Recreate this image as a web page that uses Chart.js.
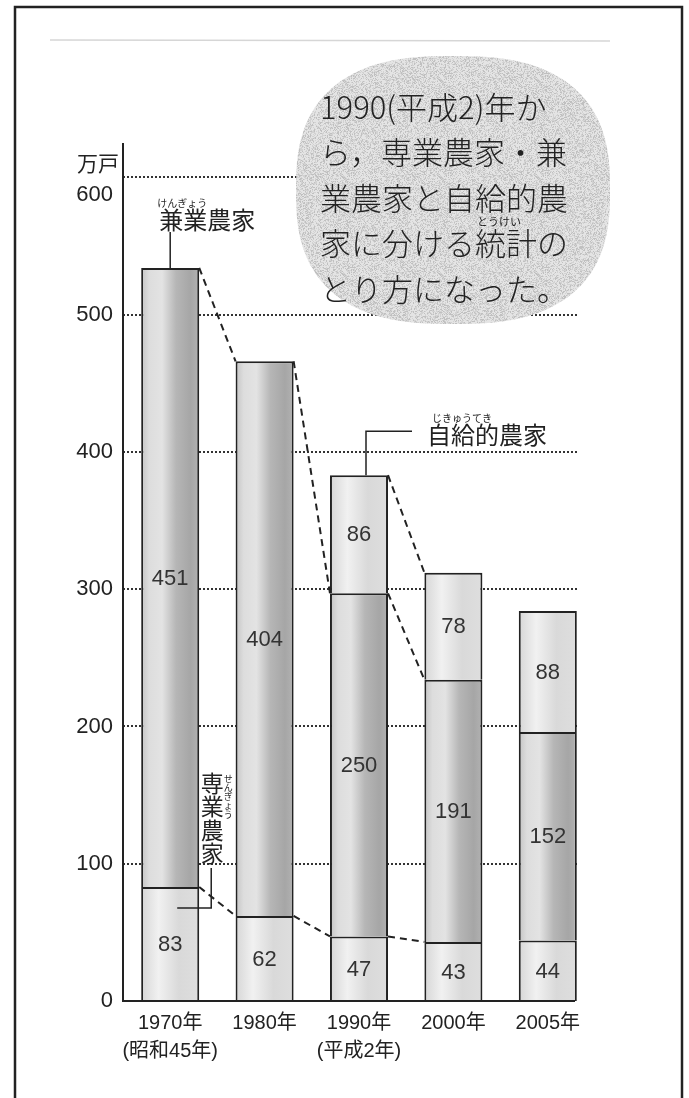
<!DOCTYPE html>
<html lang="ja">
<head>
<meta charset="utf-8">
<title>農家数の移り変わり</title>
<script src="https://cdn.jsdelivr.net/npm/chart.js@4.4.1/dist/chart.umd.min.js"></script>
<style>
  html, body { margin: 0; padding: 0; background: #fff; }
  #wrap { width: 689px; height: 1098px; position: relative; }
</style>
</head>
<body>
<div id="wrap"><canvas id="farmChart"></canvas></div>
<script>
// データ（万戸）
const years = [['1970年', '(昭和45年)'], '1980年', ['1990年', '(平成2年)'], '2000年', '2005年'];
const senGyo = [83, 62, 47, 43, 44];          // 専業農家
const kenGyo = [451, 404, 250, 191, 152];     // 兼業農家
const jikyu = [null, null, 86, 78, 88];       // 自給的農家
const yTicks = [0, 100, 200, 300, 400, 500, 600];
const yMax = 625;
const linkedUpTo = 3; // 破線は2000年の棒までつなぐ

const BAR_PCT = 0.615;
const JP = '"Noto Sans CJK JP", sans-serif';
const NUM = '"Liberation Sans", "Noto Sans CJK JP", sans-serif';

// 棒の円柱っぽいグラデーション
const darkStops = [[0, '#c4c4c4'], [0.14, '#dddddd'], [0.36, '#e3e3e3'], [0.6, '#b6b6b6'], [0.85, '#a6a6a6'], [1, '#b2b2b2']];
const lightStops = [[0, '#d6d6d6'], [0.3, '#f1f1f1'], [0.65, '#d9d9d9'], [1, '#dedede']];

function barFill(stops) {
    return function (c) {
        const chart = c.chart;
        const xs = chart.scales.x;
        if (c.type !== 'data' || !xs || !chart.chartArea) return stops[2][1];
        const cx = xs.getPixelForValue(c.dataIndex);
        const half = (xs.width / years.length) * BAR_PCT / 2;
        const g = chart.ctx.createLinearGradient(cx - half, 0, cx + half, 0);
        stops.forEach(s => g.addColorStop(s[0], s[1]));
        return g;
    };
}

// 吹き出しの網点っぽい模様
function stipple(ctx) {
    const pc = document.createElement('canvas');
    pc.width = pc.height = 97;
    const p = pc.getContext('2d');
    const img = p.createImageData(97, 97);
    for (let y = 0; y < 97; y++) {
        for (let x = 0; x < 97; x++) {
            const h = Math.abs(Math.sin(x * 12.9898 + y * 78.233) * 43758.5453) % 1;
            const v = h > 0.5 ? 228 : (h > 0.2 ? 210 : 192);
            const k = (y * 97 + x) * 4;
            img.data[k] = img.data[k + 1] = img.data[k + 2] = v;
            img.data[k + 3] = 255;
        }
    }
    p.putImageData(img, 0, 0);
    return ctx.createPattern(pc, 'repeat');
}

function blob(ctx, cx, cy, a, b, n) {
    ctx.beginPath();
    for (let t = 0; t <= 360; t += 2) {
        const r = t * Math.PI / 180;
        const c = Math.cos(r), s = Math.sin(r);
        const x = cx + a * Math.sign(c) * Math.pow(Math.abs(c), 2 / n);
        const y = cy + b * Math.sign(s) * Math.pow(Math.abs(s), 2 / n);
        if (t === 0) ctx.moveTo(x, y); else ctx.lineTo(x, y);
    }
    ctx.closePath();
}

function txt(ctx, s, x, y, font, align) {
    ctx.font = font;
    ctx.textAlign = align || 'center';
    ctx.textBaseline = 'middle';
    ctx.fillText(s, x, y);
}

function line(ctx, pts) {
    ctx.beginPath();
    ctx.moveTo(pts[0][0], pts[0][1]);
    for (let i = 1; i < pts.length; i++) ctx.lineTo(pts[i][0], pts[i][1]);
    ctx.stroke();
}

const decor = {
    id: 'decor',
    beforeDraw(chart) {
        const ctx = chart.ctx;
        ctx.save();
        ctx.fillStyle = '#fff';
        ctx.fillRect(0, 0, chart.width, chart.height);
        // 枠
        ctx.strokeStyle = '#222';
        ctx.lineWidth = 2.5;
        ctx.strokeRect(15, 7, 667, 1110);
        // スキャンのかすれ線
        ctx.strokeStyle = '#d6d6d6';
        ctx.lineWidth = 1.5;
        line(ctx, [[50, 40], [610, 41]]);
        ctx.restore();
    },
    beforeDatasetsDraw(chart) {
        const ctx = chart.ctx;
        const y = chart.scales.y;
        const left = chart.chartArea.left;
        ctx.save();
        // 点線の目盛線
        ctx.strokeStyle = '#333';
        ctx.lineWidth = 2;
        ctx.setLineDash([2, 2]);
        yTicks.slice(1).forEach(v => {
            const py = Math.round(y.getPixelForValue(v));
            line(ctx, [[left, py], [577, py]]);
        });
        ctx.setLineDash([]);
        // 吹き出し
        ctx.fillStyle = stipple(ctx);
        blob(ctx, 453, 190, 157, 134, 2.6);
        ctx.fill();
        ctx.restore();
    },
    afterDatasetsDraw(chart) {
        const ctx = chart.ctx;
        const area = chart.chartArea;
        ctx.save();
        ctx.strokeStyle = '#222';
        ctx.fillStyle = '#222';
        // 軸
        ctx.lineWidth = 2;
        line(ctx, [[area.left, area.top], [area.left, area.bottom], [575, area.bottom]]);

        const el = (d, i) => chart.getDatasetMeta(d).data[i].getProps(['x', 'y', 'base', 'width'], true);

        // 破線でつなぐ
        ctx.setLineDash([7, 5]);
        ctx.lineWidth = 2;
        chart.data.datasets.forEach((ds, d) => {
            for (let i = 0; i < linkedUpTo; i++) {
                if (ds.data[i] == null || ds.data[i + 1] == null) continue;
                const a = el(d, i), b = el(d, i + 1);
                line(ctx, [[a.x + a.width / 2, a.y], [b.x - b.width / 2, b.y]]);
            }
        });
        ctx.setLineDash([]);

        // 数値
        ctx.fillStyle = '#333';
        chart.data.datasets.forEach((ds, d) => {
            ds.data.forEach((v, i) => {
                if (v == null) return;
                const p = el(d, i);
                txt(ctx, String(v), p.x, (p.y + p.base) / 2 + 1, '22px ' + NUM);
            });
        });

        ctx.fillStyle = '#222';
        ctx.lineWidth = 1.5;
        // 兼業農家
        const k = el(1, 0);
        line(ctx, [[k.x, k.y], [k.x, k.y - 36]]);
        txt(ctx, '兼業農家', k.x + 37, k.y - 48, '24px ' + JP);
        txt(ctx, 'けんぎょう', k.x + 12, k.y - 65, '10px ' + JP);

        // 自給的農家
        const j = el(2, 2);
        const jx = j.x + 7;
        line(ctx, [[jx, j.y], [jx, j.y - 44], [jx + 46, j.y - 44]]);
        txt(ctx, '自給的農家', jx + 61, j.y - 40, '24px ' + JP, 'left');
        txt(ctx, 'じきゅうてき', jx + 96, j.y - 57, '10px ' + JP);

        // 専業農家（縦書き）
        const s = el(0, 0);
        const sx = s.x + s.width / 2 + 12;
        line(ctx, [[sx, s.y - 19], [sx, s.y + 21], [s.x + 7, s.y + 21]]);
        ['専', '業', '農', '家'].forEach((ch, i) => {
            txt(ctx, ch, sx + 1, s.y - 104 + i * 23.5, '23px ' + JP);
        });
        ['せ', 'ん', 'ぎ', 'ょ', 'う'].forEach((ch, i) => {
            txt(ctx, ch, sx + 17, s.y - 108 + i * 9, '9px ' + JP);
        });
        ctx.restore();
    },
    afterDraw(chart) {
        const ctx = chart.ctx;
        const area = chart.chartArea;
        const y = chart.scales.y;
        ctx.save();
        ctx.fillStyle = '#222';
        txt(ctx, '万戸', area.left - 25, area.top + 20, '21px ' + JP);
        // 一番上の目盛の数字は線より少し下に置かれている
        const top = yTicks[yTicks.length - 1];
        txt(ctx, String(top), area.left - 10, y.getPixelForValue(top) + 18, '22px ' + NUM, 'right');
        const lines = ['1990(平成2)年か', 'ら，専業農家・兼', '業農家と自給的農', '家に分ける統計の', 'とり方になった。'];
        lines.forEach((s, i) => txt(ctx, s, 320, 107 + i * 45.5, '300 31px ' + JP, 'left'));
        txt(ctx, 'とうけい', 499, 222, '11px ' + JP);
        ctx.restore();
    }
};

const ctxC = document.getElementById('farmChart');
ctxC.width = 689;
ctxC.height = 1098;

new Chart(ctxC, {
    type: 'bar',
    data: {
        labels: years,
        datasets: [
            { label: '専業農家', data: senGyo, backgroundColor: barFill(lightStops) },
            { label: '兼業農家', data: kenGyo, backgroundColor: barFill(darkStops) },
            { label: '自給的農家', data: jikyu, backgroundColor: barFill(lightStops) }
        ].map(ds => Object.assign(ds, {
            borderColor: '#222',
            borderWidth: 2,
            borderSkipped: 'bottom',
            barPercentage: BAR_PCT,
            categoryPercentage: 1
        }))
    },
    options: {
        responsive: false,
        animation: false,
        layout: { padding: { top: 143, right: 94, bottom: 0, left: 0 } },
        plugins: { legend: { display: false }, tooltip: { enabled: false } },
        scales: {
            x: {
                stacked: true,
                grid: { display: false, drawTicks: false },
                border: { display: false },
                ticks: {
                    color: '#222',
                    padding: 8,
                    maxRotation: 0,
                    autoSkip: false,
                    font: { family: NUM, size: 20, lineHeight: 1.4 }
                },
                afterFit: s => { s.height = 97; }
            },
            y: {
                stacked: true,
                min: 0,
                max: yMax,
                grid: { display: false, drawTicks: false },
                border: { display: false },
                afterBuildTicks: s => { s.ticks = yTicks.map(v => ({ value: v })); },
                ticks: {
                    color: '#222',
                    padding: 10,
                    font: { family: NUM, size: 22 },
                    callback: v => (v === yTicks[yTicks.length - 1] ? '' : v)
                },
                afterFit: s => { s.width = 123; }
            }
        }
    },
    plugins: [decor]
});
</script>
</body>
</html>
